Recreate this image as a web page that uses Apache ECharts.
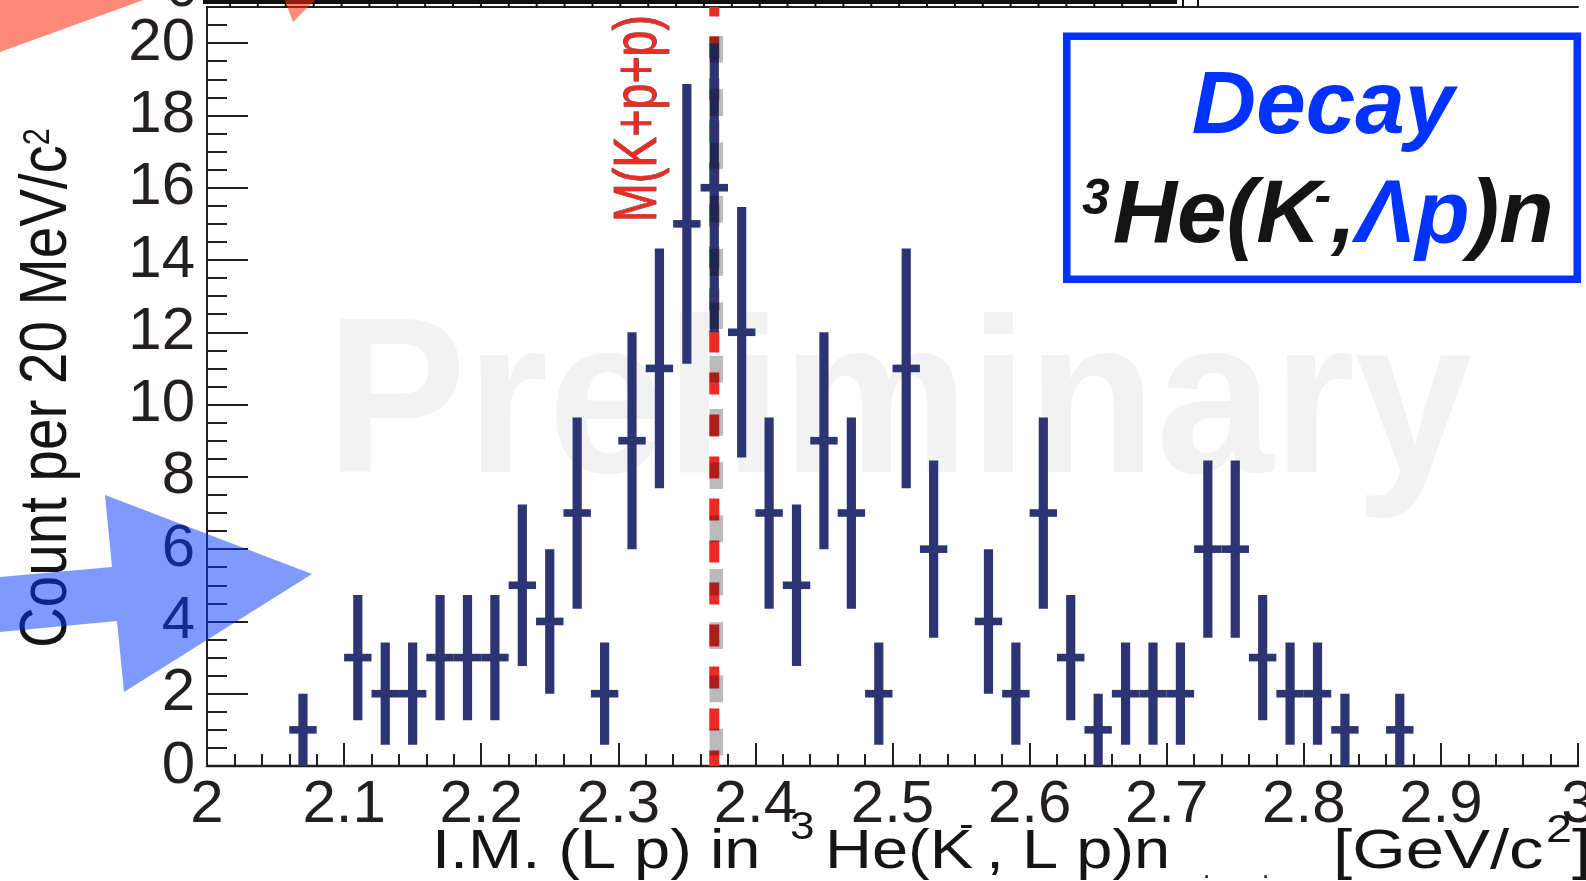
<!DOCTYPE html>
<html>
<head>
<meta charset="utf-8">
<script src="https://cdn.jsdelivr.net/npm/echarts@6/dist/echarts.min.js"></script>
<style>
html, body { margin: 0; padding: 0; background: #fff; }
#chart { width: 1586px; height: 881px; }
</style>
</head>
<body>
<div id="chart"></div>
<script>
// invariant mass bins, 20 MeV wide (bin centres in GeV/c^2)
const binWidth = 0.02
const binCenters = [2.07, 2.09, 2.11, 2.13, 2.15, 2.17, 2.19, 2.21, 2.23, 2.25,
  2.27, 2.29, 2.31, 2.33, 2.35, 2.37, 2.39, 2.41, 2.43, 2.45,
  2.47, 2.49, 2.51, 2.53, 2.55, 2.57, 2.59, 2.61, 2.63, 2.65,
  2.67, 2.69, 2.71, 2.73, 2.75, 2.77, 2.79, 2.81, 2.83, 2.85, 2.87]
const counts = [1, 0, 3, 2, 2, 3, 3, 3, 5, 4,
  7, 2, 9, 11, 15, 16, 12, 7, 5, 9,
  7, 2, 11, 6, 0, 4, 2, 7, 3, 1,
  2, 2, 2, 6, 6, 3, 2, 2, 1, 0, 1]
// K + p + p threshold and the grey overlay line
const kppMass = 2.370
const greyLineX = 2.3715
const greyLineTop = 20.2
// axis ranges
const xMin = 2, xMax = 3, xStep = 0.1
const yMin = 0, yMax = 21, yStep = 2, yMinorStep = 0.5

const FONT = "'Liberation Sans', Arial, Helvetica, sans-serif"
const axisColor = '#231f20'
const textColor = '#141414'
const navy = '#2d3474'
const boxBlue = '#0033ff'

const ctx = document.createElement('canvas').getContext('2d')
const textWidth = (str, font) => {
  ctx.font = font
  return ctx.measureText(str).width
}
const fontOf = (p) => (p.style || 'normal') + ' ' + p.size + 'px ' + FONT

// one text piece, placed by its baseline
const textEl = (str, font, size, x, baseline, fill, extra) => {
  return Object.assign({
    type: 'text',
    x: x,
    y: baseline - 0.31 * size,
    style: { text: str, font: font, fill: fill, textAlign: 'left', textVerticalAlign: 'middle' }
  }, extra || {})
}

// lay a run of pieces along one baseline (p.at = absolute x, p.dx = extra gap)
const textRun = (pieces, x0, baseline, scale) => {
  const s = scale || 1
  let x = x0
  const els = []
  pieces.forEach(p => {
    const font = fontOf(p)
    if (p.at !== undefined) x = p.at
    x += (p.dx || 0)
    els.push(textEl(p.text, font, p.size, x, baseline - (p.rise || 0), p.color || textColor, s !== 1 ? { scaleX: s } : null))
    x += textWidth(p.text, font) * s
  })
  return { els: els, width: x - x0 }
}

// rotated run (reads bottom to top), squeezed to a given length
const verticalRun = (pieces, baseX, startY, length, extraStyle) => {
  const run = textRun(pieces, 0, 0)
  if (extraStyle) run.els.forEach(e => Object.assign(e.style, extraStyle))
  return {
    type: 'group',
    x: baseX,
    y: startY,
    rotation: Math.PI / 2,
    scaleX: length / run.width,
    children: run.els
  }
}

// error bar cross for each bin: sqrt(N) vertical, bin width horizontal
const renderBin = (params, api) => {
  const x = api.value(0)
  const n = api.value(1)
  if (!n) return
  const err = Math.sqrt(n)
  const top = api.coord([x, n + err])
  const bot = api.coord([x, Math.max(0, n - err)])
  const left = api.coord([x - binWidth / 2, n])
  const right = api.coord([x + binWidth / 2, n])
  return {
    type: 'group',
    children: [
      { type: 'rect', shape: { x: top[0] - 4.6, y: top[1], width: 9.2, height: bot[1] - top[1] }, style: { fill: navy } },
      { type: 'rect', shape: { x: left[0], y: left[1] - 3.8, width: right[0] - left[0], height: 7.6 }, style: { fill: navy } }
    ]
  }
}

const chart = echarts.init(document.getElementById('chart'))

const graphics = []

// watermark
const wmFont = 'bold 221px ' + FONT
graphics.push(textEl('Preliminary', wmFont, 221, 326, 480, '#f2f2f2', {
  z: 1, scaleX: 1146 / textWidth('Preliminary', wmFont)
}))

// frame of the panel above
graphics.push({ type: 'rect', shape: { x: 203, y: 0, width: 974, height: 4 }, style: { fill: '#111' }, z: 5 })
for (let tx = 230; tx < 1170; tx += 27.88) {
  graphics.push({ type: 'line', shape: { x1: tx, y1: 3, x2: tx, y2: 7.5 }, style: { stroke: '#111', lineWidth: 2 }, z: 5 })
}
;[1183, 1198].forEach(tx => {
  graphics.push({ type: 'line', shape: { x1: tx, y1: 0, x2: tx, y2: 7.5 }, style: { stroke: '#111', lineWidth: 2 }, z: 5 })
})
graphics.push(textEl('0', 'normal 58px ' + FONT, 58, 166, 8, axisColor, { z: 5 }))

// y axis title
graphics.push(Object.assign(verticalRun([
  { text: 'Count per 20 MeV/c', size: 66 },
  { text: '2', size: 36, rise: 18 }
], 68, 648, 520), { z: 6 }))

// x axis title
textRun([
  { text: 'I.M. (L p) in', size: 56 },
  { text: '3', size: 38, at: 790, rise: 30 },
  { text: 'He(K', size: 56, at: 825 },
  { text: '-', size: 38, at: 959, rise: 32 },
  { text: ', L p)n', size: 56, at: 986 }
], 432, 870, 1.16).els.forEach(e => graphics.push(e))
textRun([{ text: '.', size: 26 }], 1203, 879).els.forEach(e => graphics.push(e))
textRun([{ text: '.', size: 26 }], 1262, 879).els.forEach(e => graphics.push(e))
textRun([
  { text: '[GeV/c', size: 56 },
  { text: '2', size: 38, at: 1546, rise: 27 },
  { text: ']', size: 56, at: 1572 }
], 1333, 870, 1.23).els.forEach(e => graphics.push(e))

// threshold label
graphics.push(Object.assign(verticalRun([
  { text: 'M(K+p+p)', size: 62 }
], 658, 222, 207, { stroke: 'rgba(40,0,0,0.85)', lineWidth: 0.8 }), { z: 6 }))
graphics[graphics.length - 1].children.forEach(e => { e.style.fill = '#ee2a24' })

// legend box
graphics.push({
  type: 'rect', z: 10,
  shape: { x: 1066.75, y: 36.25, width: 510.5, height: 243 },
  style: { fill: '#fff', stroke: boxBlue, lineWidth: 7.5 }
})
const decayFont = 'italic bold 89px ' + FONT
graphics.push(textEl('Decay', decayFont, 89, 1323 - textWidth('Decay', decayFont) / 2, 136.5, boxBlue, { z: 11 }))
textRun([
  { text: '3', size: 50, style: 'italic bold', rise: 29 },
  { text: 'He(K', size: 89, style: 'italic bold', dx: 3 },
  { text: '-', size: 50, style: 'italic bold', rise: 31, dx: -6 },
  { text: ',', size: 89, style: 'italic bold' },
  { text: 'Λp', size: 89, style: 'italic bold', color: boxBlue },
  { text: ')n', size: 89, style: 'italic bold' }
], 1082, 245).els.forEach(e => { e.z = 11; graphics.push(e) })

// arrows pasted over the plot
graphics.push({
  type: 'polygon', z: 100,
  shape: { points: [[0, 577], [112, 567], [105, 495], [312, 574], [124, 692], [117, 621], [0, 632]] },
  style: { fill: 'rgba(0,51,255,0.5)' }
})
graphics.push({
  type: 'polygon', z: 100,
  shape: { points: [[0, -10], [171, -10], [0, 52]] },
  style: { fill: 'rgba(255,40,10,0.55)' }
})
graphics.push({
  type: 'polygon', z: 100,
  shape: { points: [[281, -10], [293, 22], [325, -10]] },
  style: { fill: 'rgba(255,40,10,0.55)' }
})

const option = {
  animation: false,
  backgroundColor: '#fff',
  grid: { left: 207, right: 8, top: 7, bottom: 115, containLabel: false, outerBoundsMode: 'none' },
  xAxis: [
    {
      type: 'value', min: xMin, max: xMax, interval: xStep, position: 'bottom',
      axisLine: { show: true, onZero: false, lineStyle: { color: axisColor, width: 2.4 } },
      axisTick: { show: true, inside: true, length: 23, lineStyle: { color: axisColor, width: 2 } },
      minorTick: { show: true, splitNumber: 5, length: 12, lineStyle: { color: axisColor, width: 2 } },
      axisLabel: { show: true, margin: 9, fontSize: 60, fontFamily: FONT, color: axisColor, showMinLabel: true, showMaxLabel: true, hideOverlap: false },
      splitLine: { show: false }
    },
    {
      type: 'value', min: xMin, max: xMax, position: 'top',
      axisLine: { show: true, onZero: false, lineStyle: { color: axisColor, width: 2 } },
      axisTick: { show: false }, axisLabel: { show: false }, splitLine: { show: false }
    }
  ],
  yAxis: [
    {
      type: 'value', min: yMin, max: yMax, interval: yStep, position: 'left',
      axisLine: { show: true, onZero: false, lineStyle: { color: axisColor, width: 2 } },
      axisTick: { show: true, inside: true, length: 41, lineStyle: { color: axisColor, width: 2 } },
      axisLabel: { show: true, margin: 12, fontSize: 60, fontFamily: FONT, color: axisColor, showMaxLabel: false, showMinLabel: true },
      splitLine: { show: false }
    },
    {
      type: 'value', min: yMin, max: yMax, interval: yMinorStep, position: 'left',
      axisLine: { show: false },
      axisTick: { show: true, inside: true, length: 20, lineStyle: { color: axisColor, width: 2 } },
      axisLabel: { show: false }, splitLine: { show: false }
    }
  ],
  series: [
    {
      type: 'line', silent: true, symbol: 'none', z: 2,
      data: [[kppMass, yMax], [kppMass, yMin]],
      lineStyle: { color: '#ee2a24', width: 10, type: [22, 20], dashOffset: 12.5, cap: 'butt' }
    },
    {
      type: 'custom', z: 3, clip: true,
      renderItem: renderBin,
      encode: { x: 0, y: 1 },
      data: binCenters.map((c, i) => [c, counts[i]])
    },
    {
      type: 'line', silent: true, symbol: 'none', z: 4,
      data: [[greyLineX, greyLineTop], [greyLineX, yMin]],
      lineStyle: { color: 'rgba(0,0,0,0.27)', width: 13.5, type: [26.7, 26.6], cap: 'butt' }
    }
  ],
  graphic: { elements: graphics }
}

chart.setOption(option)
window.addEventListener('resize', chart.resize)
</script>
</body>
</html>
